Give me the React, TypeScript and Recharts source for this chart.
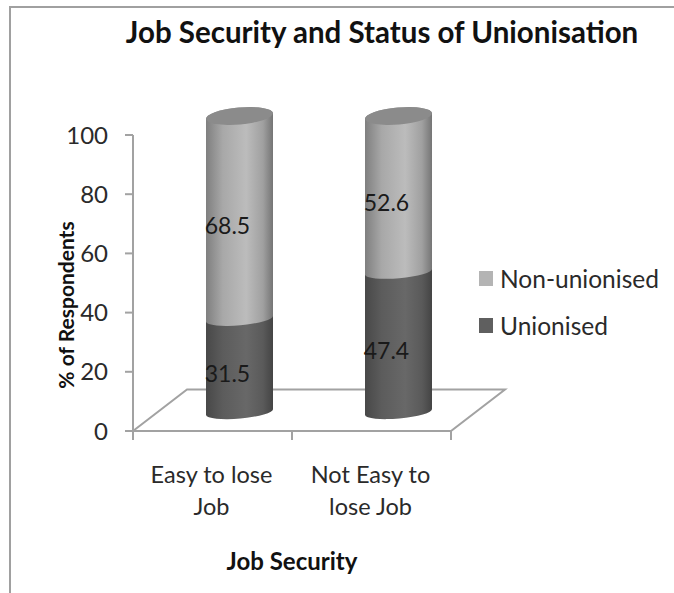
import React from 'react'
import {
  BarChart,
  Bar,
  XAxis,
  YAxis,
  LabelList,
  Legend,
  ReferenceArea,
} from 'recharts'

const categories = ['Easy to lose Job', 'Not Easy to lose Job']
const categoryLines = [
  ['Easy to lose', 'Job'],
  ['Not Easy to', 'lose Job'],
]
const unionised = [31.5, 47.4]
const nonUnionised = [68.5, 52.6]
const yTicks = [0, 20, 40, 60, 80, 100]
const legendItems = [
  { name: 'Non-unionised', color: '#b4b4b4' },
  { name: 'Unionised', color: '#5f5f5f' },
]

const data = categories.map((name, i) => ({
  name,
  unionised: unionised[i],
  nonUnionised: nonUnionised[i],
}))

const FONT = 'Lato, "Open Sans", sans-serif'
const AXIS_COLOR = '#a2a2a2'
// the 3d look: everything sitting on the floor is pushed back from the axes
const DEPTH_X = 27
const DEPTH_Y = -19
const TILT = 3
const BAND = 159

function Cylinder(props: any) {
  const { x, y, width, height, gradient, cap } = props
  const xl = x + DEPTH_X
  const xr = xl + width
  const top = y + DEPTH_Y
  const bottom = top + height
  const d = [
    `M ${xl} ${top + TILT}`,
    `L ${xl} ${bottom + TILT}`,
    `A ${width / 2} 6.5 -5 0 0 ${xr} ${bottom - TILT}`,
    `L ${xr} ${top - TILT}`,
    `A ${width / 2} 8.5 -5 0 0 ${xl} ${top + TILT}`,
    'Z',
  ].join(' ')
  const cx = (xl + xr) / 2
  return (
    <g>
      <path d={d} fill={`url(#${gradient})`} />
      {cap && (
        <ellipse
          cx={cx}
          cy={top}
          rx={width / 2}
          ry={8.5}
          fill="#8b8b8b"
          transform={`rotate(-5 ${cx} ${top})`}
        />
      )}
    </g>
  )
}

function Floor(props: any) {
  const { x, y, width, height } = props
  const skew = 54
  const points = [
    [x, y + height],
    [x + skew, y],
    [x + width + skew, y],
    [x + width, y + height],
  ]
    .map((p) => p.join(','))
    .join(' ')
  return <polygon points={points} fill="none" stroke={AXIS_COLOR} strokeWidth={2} />
}

function CategoryTick(props: any) {
  const { x, y, index } = props
  const axisY = y - 9
  return (
    <g>
      <line x1={x - BAND / 2} x2={x - BAND / 2} y1={axisY} y2={axisY + 9} stroke={AXIS_COLOR} strokeWidth={2} />
      {index === categories.length - 1 && (
        <line x1={x + BAND / 2} x2={x + BAND / 2} y1={axisY} y2={axisY + 9} stroke={AXIS_COLOR} strokeWidth={2} />
      )}
      <text textAnchor="middle" fontFamily={FONT} fontSize={23.5} fill="#2a2a2a">
        {categoryLines[index].map((line, i) => (
          <tspan key={line} x={x - 1} y={axisY + 52 + i * 32}>
            {line}
          </tspan>
        ))}
      </text>
    </g>
  )
}

function ValueLabel(props: any) {
  const { x, y, width, height, value } = props
  return (
    <text
      x={x + width / 2 + 15}
      y={y + height / 2 - 11}
      textAnchor="middle"
      dominantBaseline="central"
      fontFamily={FONT}
      fontSize={23}
      fill="#1a1a1a"
    >
      {Number(value).toFixed(1)}
    </text>
  )
}

function LegendBox() {
  return (
    <div style={{ fontFamily: FONT, fontSize: 24.5, color: '#2a2a2a' }}>
      {legendItems.map((item) => (
        <div key={item.name} style={{ display: 'flex', alignItems: 'center', height: 47 }}>
          <span style={{ width: 14, height: 15, background: item.color, marginRight: 7 }} />
          {item.name}
        </div>
      ))}
    </div>
  )
}

export default function App() {
  return (
    <div style={{ position: 'absolute', left: 0, top: 0, width: 674, height: 593, overflow: 'hidden', background: '#fff' }}>
      <div
        style={{
          position: 'absolute',
          left: 9,
          top: 6,
          width: 680,
          height: 600,
          borderLeft: '2px solid #a0a0a0',
          borderTop: '2px solid #a0a0a0',
        }}
      />
      <BarChart
        width={674}
        height={593}
        data={data}
        margin={{ top: 135, right: 33, bottom: 102, left: 73 }}
        style={{ position: 'absolute', left: 0, top: 0 }}
      >
        <defs>
          <linearGradient id="lightCyl" x1="0" y1="0" x2="1" y2="0">
            <stop offset="0%" stopColor="#7f7f7f" />
            <stop offset="25%" stopColor="#a8a8a8" />
            <stop offset="60%" stopColor="#bcbcbc" />
            <stop offset="85%" stopColor="#a0a0a0" />
            <stop offset="100%" stopColor="#757575" />
          </linearGradient>
          <linearGradient id="darkCyl" x1="0" y1="0" x2="1" y2="0">
            <stop offset="0%" stopColor="#484848" />
            <stop offset="25%" stopColor="#5c5c5c" />
            <stop offset="60%" stopColor="#686868" />
            <stop offset="85%" stopColor="#5a5a5a" />
            <stop offset="100%" stopColor="#444444" />
          </linearGradient>
        </defs>
        <text
          x={382}
          y={31}
          textAnchor="middle"
          dominantBaseline="central"
          fontFamily={FONT}
          fontWeight={700}
          fontSize={29.5}
          fill="#111"
        >
          Job Security and Status of Unionisation
        </text>
        <text
          x={292}
          y={560}
          textAnchor="middle"
          dominantBaseline="central"
          fontFamily={FONT}
          fontWeight={700}
          fontSize={24}
          fill="#111"
        >
          Job Security
        </text>
        <text
          x={65}
          y={305}
          textAnchor="middle"
          dominantBaseline="central"
          transform="rotate(-90 65 305)"
          fontFamily={FONT}
          fontWeight={700}
          fontSize={21}
          fill="#111"
        >
          % of Respondents
        </text>
        <ReferenceArea y1={0} y2={14} shape={<Floor />} ifOverflow="visible" />
        <XAxis
          dataKey="name"
          height={60}
          interval={0}
          axisLine={{ stroke: AXIS_COLOR, strokeWidth: 2 }}
          tickLine={false}
          tick={<CategoryTick />}
          tickSize={9}
          tickMargin={0}
        />
        <YAxis
          type="number"
          width={60}
          domain={[0, 100]}
          ticks={yTicks}
          interval={0}
          axisLine={{ stroke: AXIS_COLOR, strokeWidth: 2 }}
          tickLine={{ stroke: AXIS_COLOR, strokeWidth: 2 }}
          tickSize={8}
          tickMargin={17}
          tick={{ fontFamily: FONT, fontSize: 24, fill: '#2a2a2a' }}
        />
        <Legend
          layout="vertical"
          align="right"
          verticalAlign="top"
          content={<LegendBox />}
          wrapperStyle={{ left: 479, top: 255, width: 190, right: 'auto', bottom: 'auto' }}
        />
        <Bar
          dataKey="unionised"
          stackId="a"
          barSize={67}
          fill="#5f5f5f"
          isAnimationActive={false}
          shape={(p: any) => <Cylinder {...p} gradient="darkCyl" />}
        >
          <LabelList dataKey="unionised" content={<ValueLabel />} />
        </Bar>
        <Bar
          dataKey="nonUnionised"
          stackId="a"
          barSize={67}
          fill="#b4b4b4"
          isAnimationActive={false}
          shape={(p: any) => <Cylinder {...p} gradient="lightCyl" cap />}
        >
          <LabelList dataKey="nonUnionised" content={<ValueLabel />} />
        </Bar>
      </BarChart>
    </div>
  )
}
